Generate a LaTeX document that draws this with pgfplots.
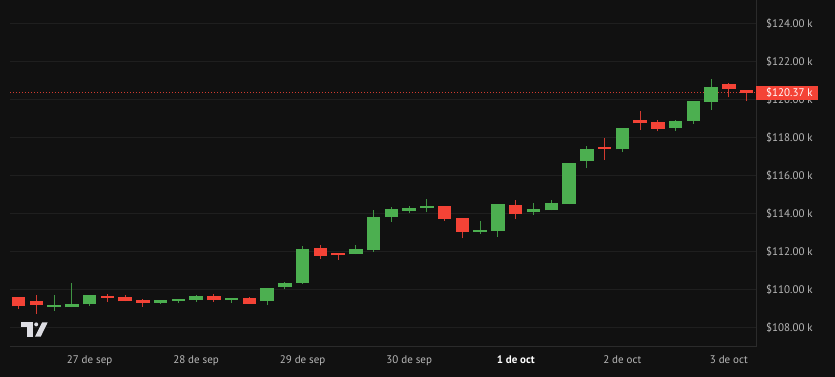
\documentclass[border=0pt]{standalone}
\usepackage{pgfplots}
\pgfplotsset{compat=1.18}
\usepackage{pgfplotstable}
\usepackage{fontspec}
\setmainfont{PT Sans}
\definecolor{bg}{HTML}{111111}
\definecolor{gridc}{HTML}{1F1F1F}
\definecolor{axc}{HTML}{2B2B2B}
\definecolor{tvgreen}{HTML}{4CAF50}
\definecolor{tvred}{HTML}{F44336}
\definecolor{wickg}{HTML}{3F9443}
\definecolor{wickr}{HTML}{D23A30}
\definecolor{lab}{HTML}{B8B8B8}
\definecolor{logoc}{HTML}{DDDDE3}

% green candles: index open high low close
\pgfplotstableread{
i o h l c
2 109082 109699 108871 109156
3 109050 110333 109050 109240
4 109209 109715 109135 109715
8 109293 109435 109224 109435
9 109383 109488 109277 109488
10 109435 109699 109330 109662
12 109435 109525 109277 109525
14 109367 110053 109187 110053
15 110137 110385 109990 110317
16 110333 112285 110296 112127
19 111847 112338 111847 112127
20 112074 114201 111984 113831
21 113831 114343 113552 114253
22 114148 114396 114011 114306
23 114290 114765 114063 114396
26 113040 113604 112934 113145
27 113077 114501 112776 114501
29 114079 114554 113921 114222
30 114169 114697 114169 114554
31 114486 116665 114486 116665
32 116786 117562 116385 117388
34 117388 118512 117245 118512
37 118528 118950 118369 118897
38 118897 119953 118739 119953
39 119900 121098 119478 120660
}\greentab

% red candles: index open high low close
\pgfplotstableread{
i o h l c
0 109610 109610 108976 109103
1 109383 109715 108712 109187
5 109662 109768 109330 109557
6 109610 109683 109367 109367
7 109435 109488 109082 109277
11 109662 109768 109346 109435
13 109525 109578 109240 109240
17 112180 112322 111615 111757
18 111900 111916 111546 111794
24 114396 114396 113620 113726
25 113747 113747 112691 113040
28 114449 114728 113726 113990
33 117493 117984 116823 117420
35 118950 119409 118422 118760
36 118829 118950 118338 118459
40 120834 120887 120121 120570
41 120501 120501 119953 120370
}\redtab

\begin{document}
\begin{tikzpicture}
\useasboundingbox (0,0) rectangle (835pt,377pt);
\fill[bg] (0,0) rectangle (835pt,377pt);
\begin{axis}[
  at={(10pt,30pt)}, anchor=south west,
  scale only axis, width=746pt, height=347pt,
  xmin=-0.479, xmax=41.53, ymin=106955, ymax=125266,
  axis x line*=bottom, axis y line*=right,
  axis line style={draw=axc, line width=1pt, -},
  ytick={108000,110000,112000,114000,116000,118000,120000,122000,124000},
  yticklabels={\$108.00 k,\$110.00 k,\$112.00 k,\$114.00 k,\$116.00 k,\$118.00 k,\$120.00 k,\$122.00 k,\$124.00 k},
  xtick={4,10,16,22,28,34,40},
  xticklabels={27 de sep,28 de sep,29 de sep,30 de sep,\textcolor{white}{\textbf{1 de oct}},2 de oct,3 de oct},
  scaled y ticks=false,
  major tick length=0pt,
  ymajorgrids, grid style={gridc, line width=1pt},
  tick label style={lab, font=\fontsize{11pt}{13pt}\selectfont},
  yticklabel style={anchor=west, inner sep=0pt, xshift=10pt},
  xticklabel style={anchor=base, inner sep=0pt, yshift=-17pt},
]
\addplot[tvred!85!bg, dash pattern=on 1pt off 2pt, line width=0.6pt, forget plot] coordinates {(-0.479,120370) (41.53,120370)};
% wicks
\addplot[draw=none, mark=none, forget plot, error bars/.cd, y dir=plus, y explicit, error mark=none, error bar style={solid, line width=1pt, draw=wickg}]
  table[x=i, y=l, y error plus expr={\thisrow{h}-\thisrow{l}}] \greentab;
\addplot[draw=none, mark=none, forget plot, error bars/.cd, y dir=plus, y explicit, error mark=none, error bar style={solid, line width=1pt, draw=wickr}]
  table[x=i, y=l, y error plus expr={\thisrow{h}-\thisrow{l}}] \redtab;
% bodies
\addplot[draw=none, mark=none, forget plot, error bars/.cd, y dir=plus, y explicit, error mark=none, error bar style={solid, line width=13.5pt, draw=tvgreen}]
  table[x=i, y=o, y error plus expr={\thisrow{c}-\thisrow{o}}] \greentab;
\addplot[draw=none, mark=none, forget plot, error bars/.cd, y dir=plus, y explicit, error mark=none, error bar style={solid, line width=13.5pt, draw=tvred}]
  table[x=i, y=c, y error plus expr={\thisrow{o}-\thisrow{c}}] \redtab;
\coordinate (pl) at (axis cs:41.53,120370);
\end{axis}
% last price tag
\fill[tvred] ([yshift=-7.2pt]pl) rectangle ([xshift=62pt,yshift=7.2pt]pl);
\node[anchor=west, inner sep=0pt, text=white, font=\fontsize{11pt}{13pt}\selectfont] at ([xshift=10pt]pl) {\$120.37 k};
% logo
\fill[logoc] (20.7pt,54.7pt) rectangle (33.3pt,50.3pt);
\fill[logoc] (26.7pt,50.5pt) rectangle (33.3pt,40.3pt);
\fill[logoc] (36.2pt,52.6pt) circle (2pt);
\fill[logoc] (35pt,40.3pt) -- (40.7pt,40.3pt) -- (47.7pt,54.7pt) -- (42.2pt,54.7pt) -- cycle;
\end{tikzpicture}
\end{document}
